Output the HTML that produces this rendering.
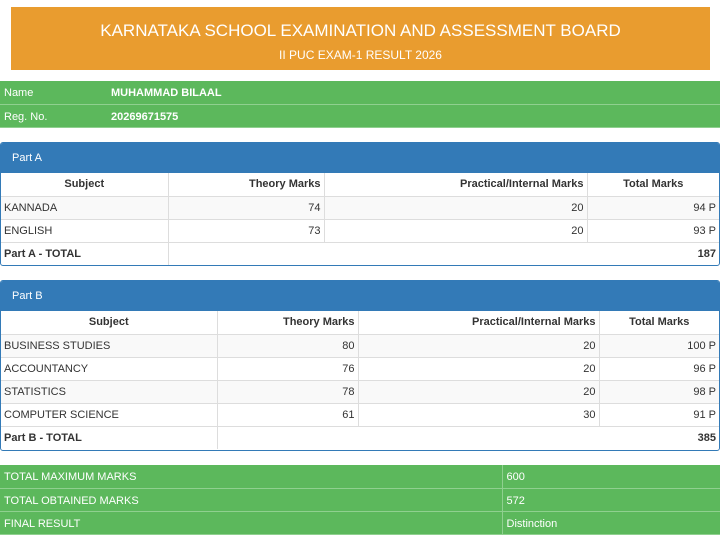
<!DOCTYPE html>
<html><head><meta charset="utf-8"><style>
*{margin:0;padding:0;box-sizing:border-box}
body{width:720px;height:545px;background:#fff;font-family:"Liberation Sans",Arial,sans-serif;color:#333;font-size:11px;position:relative;overflow:hidden}
.hdr{position:absolute;left:11px;top:7px;width:699px;height:63px;background:#e99c2f;color:#fff;text-align:center}
.hdr .t{position:absolute;top:14px;width:100%;font-size:17px}
.hdr .s{position:absolute;top:41px;width:100%;font-size:12px}
.g{position:absolute;left:0;width:720px;background:#5cb85c;color:#fff}
.g td{height:23px;padding:2px 4px 0;border-bottom:1px solid #8fd08f;font-size:11px}
table{border-collapse:collapse;width:100%}
.panel{position:absolute;left:0;width:720px;border:1px solid #337ab7;border-radius:3px;overflow:hidden;background:#fff}
.ph{background:#337ab7;color:#fff;height:30px;line-height:30px;padding-left:11px;font-size:11px}
.panel td,.panel th{height:23px;padding:0 3px;border:1px solid #ddd;font-size:11px}
.panel th{text-align:center;font-weight:bold}
.panel td.r{text-align:right}
.panel tr.o td{background:#f9f9f9}
.panel tr:first-child th{border-top:0}
.panel td:first-child,.panel th:first-child{border-left:0}
.panel td:last-child,.panel th:last-child{border-right:0}
.panel tr:last-child td{border-bottom:0}
</style></head><body>
<div class="hdr"><div class="t">KARNATAKA SCHOOL EXAMINATION AND ASSESSMENT BOARD</div><div class="s">II PUC EXAM-1 RESULT 2026</div></div>
<table class="g" style="top:81px"><tr><td style="width:107px">Name</td><td style="font-weight:bold">MUHAMMAD BILAAL</td></tr><tr><td>Reg. No.</td><td style="font-weight:bold">20269671575</td></tr></table>

<div class="panel" style="top:142px;height:124px">
<div class="ph">Part A</div>
<table>
<tr><th style="width:167px">Subject</th><th style="width:156px;text-align:right">Theory Marks</th><th style="width:263px;text-align:right">Practical/Internal Marks</th><th>Total Marks</th></tr>
<tr class="o"><td>KANNADA</td><td class="r">74</td><td class="r">20</td><td class="r">94 P</td></tr>
<tr><td>ENGLISH</td><td class="r">73</td><td class="r">20</td><td class="r">93 P</td></tr>
<tr><td><b>Part A - TOTAL</b></td><td colspan="3" class="r"><b>187</b></td></tr>
</table></div>

<div class="panel" style="top:280px;height:171px">
<div class="ph">Part B</div>
<table>
<tr><th style="width:216px">Subject</th><th style="width:141px;text-align:right">Theory Marks</th><th style="width:241px;text-align:right">Practical/Internal Marks</th><th>Total Marks</th></tr>
<tr class="o"><td>BUSINESS STUDIES</td><td class="r">80</td><td class="r">20</td><td class="r">100 P</td></tr>
<tr><td>ACCOUNTANCY</td><td class="r">76</td><td class="r">20</td><td class="r">96 P</td></tr>
<tr class="o"><td>STATISTICS</td><td class="r">78</td><td class="r">20</td><td class="r">98 P</td></tr>
<tr><td>COMPUTER SCIENCE</td><td class="r">61</td><td class="r">30</td><td class="r">91 P</td></tr>
<tr><td><b>Part B - TOTAL</b></td><td colspan="3" class="r"><b>385</b></td></tr>
</table></div>

<table class="g" style="top:465px">
<tr><td style="width:502px;border-right:1px solid #8fd08f">TOTAL MAXIMUM MARKS</td><td>600</td></tr>
<tr><td style="border-right:1px solid #8fd08f">TOTAL OBTAINED MARKS</td><td>572</td></tr>
<tr><td style="border-right:1px solid #8fd08f">FINAL RESULT</td><td>Distinction</td></tr>
</table>
</body></html>
